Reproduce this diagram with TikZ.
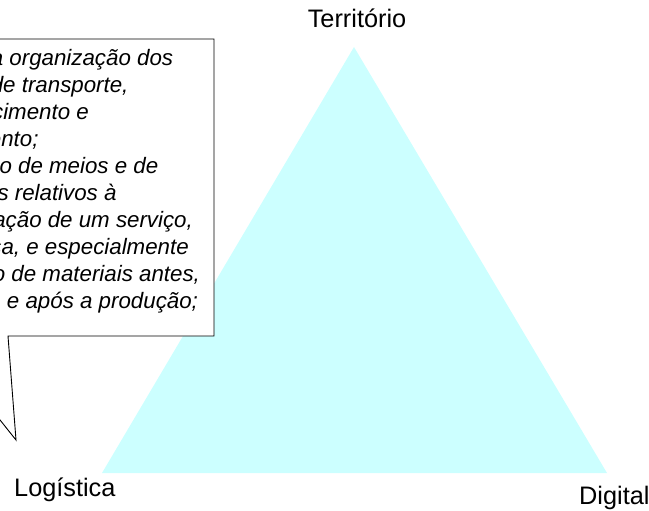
\documentclass[tikz,border=0pt]{standalone}
\usepackage{fontspec}
\setmainfont{Liberation Sans}
\definecolor{tricyan}{HTML}{CCFFFF}
\begin{document}
\begin{tikzpicture}[x=1pt,y=-1pt,
  label/.style={font=\fontsize{25.3}{30}\selectfont, inner sep=0pt},
  calltext/.style={font=\fontsize{22.3}{26.9}\selectfont\itshape, align=left, inner sep=0pt},
  callout/.style={draw=black, line width=0.9pt, fill=white, line join=miter}]
\useasboundingbox (0,0) rectangle (649,511);
\clip (0,0) rectangle (649,511);
% triangle
\coordinate (apex) at (354,47);
\coordinate (bl) at (102,473);
\coordinate (br) at (607,473);
\fill[tricyan] (apex) -- (bl) -- (br) -- cycle;
% callout
\coordinate (tip) at (16,440);
\draw[callout] (-120,39) -- (214,39) -- (214,336) -- (8,336) -- (tip) -- (-67,336) -- (-120,336) -- cycle;
\node[calltext, anchor=base west] (def) at (-75,308) {Área da organização dos\\
meios de transporte,\\
abastecimento e\\
\hspace*{-2pt}alojamento;\\
Provisão de meios e de\\
\hspace*{-2pt}recursos relativos à\\
\hspace*{-5pt}organização de um serviço,\\
\hspace*{2pt}empresa, e especialmente\\
\hspace*{2pt}ao fluxo de materiais antes,\\
durante e após a produção;};
% labels
\node[label, anchor=base] (terr) at (357,28) {Território};
\node[label, anchor=base west] (log) at (14,496) {Logística};
\node[label, anchor=base west] (dig) at (579,504) {Digital};
\end{tikzpicture}
\end{document}
